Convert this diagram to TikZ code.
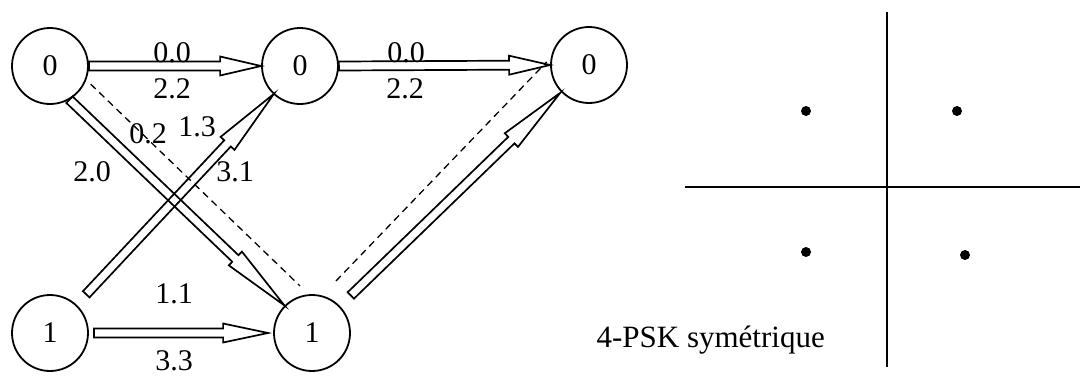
\documentclass[tikz,border=0pt]{standalone}
\usepackage{fontspec}
\setmainfont{Liberation Serif}
\usetikzlibrary{calc}

\tikzset{
  state/.style={circle, draw, line width=1.8pt, minimum size=76pt, inner sep=0pt,
                font=\fontsize{30}{32}\selectfont},
  lbl/.style={font=\fontsize{30}{32}\selectfont, inner sep=0pt},
  captiontext/.style={font=\fontsize{31}{34}\selectfont, inner sep=0pt},
  dashlink/.style={dash pattern=on 7pt off 5pt, line width=1.3pt},
  axis/.style={line width=2pt},
  dot/.style={circle, fill, inner sep=0pt, minimum size=10pt},
  hollow/.style={line width=1.7pt, line join=miter},
}

% Hollow (double-outline) arrow from #1 to #2 with a head of length #3 (pt)
\newcommand\hollowarrow[3]{%
  \path let \p1=#1, \p2=#2,
            \n1={atan2(\y2-\y1,\x2-\x1)},
            \n2={veclen(\x2-\x1,\y2-\y1)} in
    \pgfextra{\xdef\harAngRaw{\n1}\xdef\harLenRaw{\n2}};
  \pgfmathsetmacro\harAng{\harAngRaw}%
  \pgfmathsetmacro\harLen{\harLenRaw}%
  \pgfmathsetmacro\harBack{\harLen-#3}%
  \begin{scope}[shift={#1}, rotate=\harAng]
    \draw[hollow] (0pt,4.5pt) -- (\harBack pt,4.5pt) -- (\harBack pt,9.5pt)
      -- (\harLen pt,0pt) -- (\harBack pt,-9.5pt) -- (\harBack pt,-4.5pt)
      -- (0pt,-4.5pt) -- cycle;
  \end{scope}
}

\begin{document}
\begin{tikzpicture}[x=1pt, y=-1pt]
  \useasboundingbox (0,0) rectangle (1080,376);

  % trellis states
  \node[state] (A) at (50,66)  {0};
  \node[state] (B) at (300,66) {0};
  \node[state] (C) at (589,65) {0};
  \node[state] (D) at (50,333) {1};
  \node[state] (E) at (312,333) {1};

  % branches
  \hollowarrow{(A.east)}{(B.west)}{41}
  \hollowarrow{(B.east)}{(C.west)}{41}
  \hollowarrow{([xshift=5pt]D.east)}{([xshift=-5pt]E.west)}{45}
  \hollowarrow{($(D.center)!53pt!(B.center)$)}{($(B.center)!38pt!(D.center)$)}{68}
  \hollowarrow{(A.-60)}{(E.135)}{68}
  \hollowarrow{($(E.center)!54pt!(C.center)$)}{($(C.center)!40pt!(E.center)$)}{68}

  % parallel transitions
  \draw[dashlink, shorten <=6pt, shorten >=12pt] (A.-21) -- (E.95);
  \draw[dashlink, shorten <=20pt, shorten >=6pt] (E.75) -- (C.169);

  % branch metrics
  \node[lbl] (m1) at (172,53)  {0.0};
  \node[lbl] (m2) at (172,89)  {2.2};
  \node[lbl] (m3) at (406,53)  {0.0};
  \node[lbl] (m4) at (405,89)  {2.2};
  \node[lbl] (m5) at (148,134) {0.2};
  \node[lbl] (m6) at (197,127) {1.3};
  \node[lbl] (m7) at (92,172)  {2.0};
  \node[lbl] (m8) at (235,172) {3.1};
  \node[lbl] (m9) at (174,294) {1.1};
  \node[lbl] (m10) at (174,361) {3.3};

  % constellation
  \coordinate (vtop) at (887,12);
  \coordinate (vbot) at (887,367);
  \coordinate (hl) at (685,187);
  \coordinate (hr) at (1080,187);
  \draw[axis] (vtop) -- (vbot);
  \draw[axis] (hl) -- (hr);
  \node[dot] (s1) at (806,111) {};
  \node[dot] (s2) at (957,111) {};
  \node[dot] (s3) at (806,252) {};
  \node[dot] (s4) at (965,255) {};
  \node[captiontext, anchor=base east] (psk) at (825,347) {4-PSK symétrique};
\end{tikzpicture}
\end{document}
